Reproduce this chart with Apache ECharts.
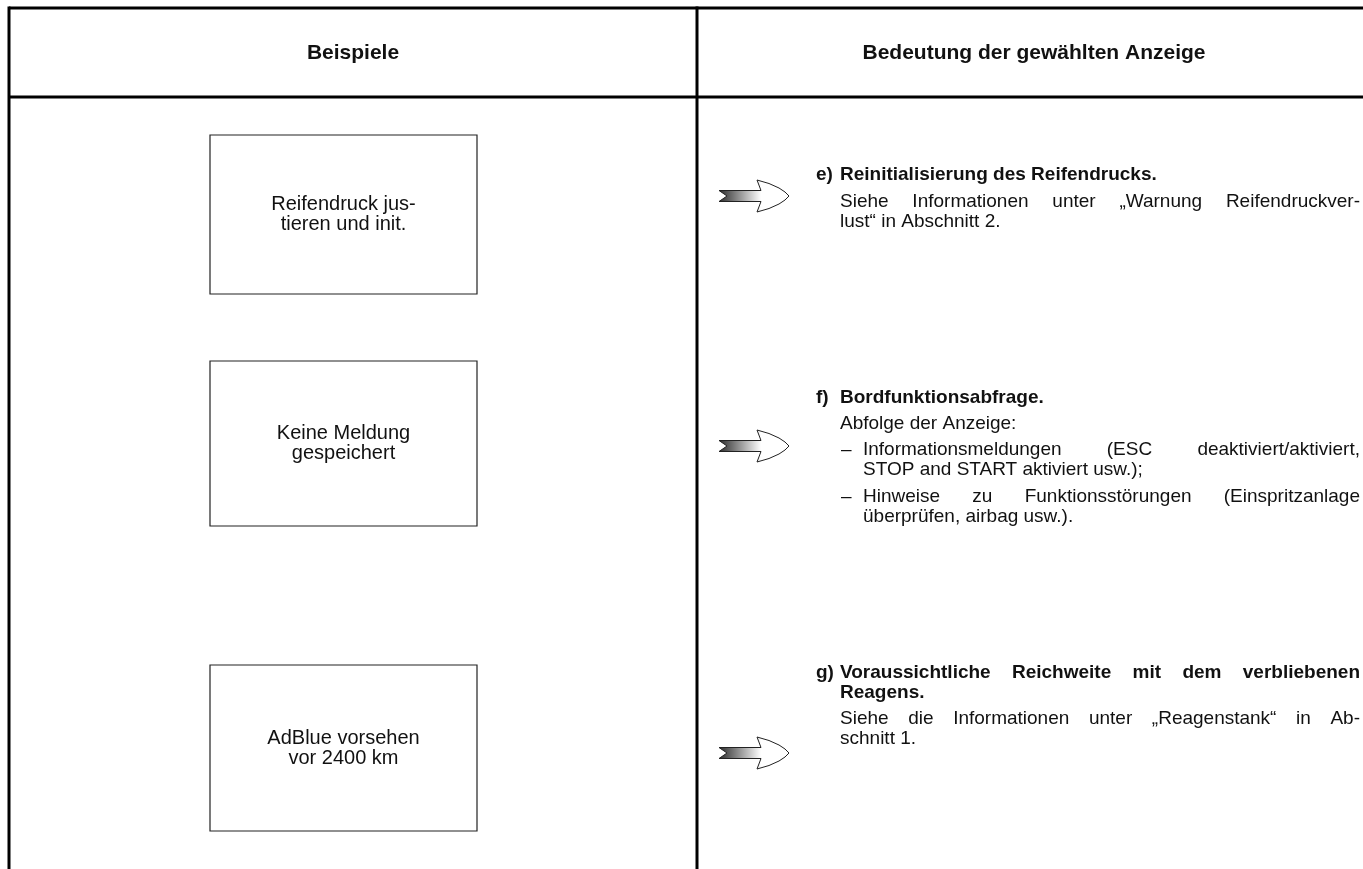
<!DOCTYPE html>
<html><head><meta charset="utf-8">
<script src="https://cdn.jsdelivr.net/npm/echarts@6/dist/echarts.min.js"></script>
<style>html,body{margin:0;padding:0;background:#fff}#c{width:1363px;height:869px}</style>
</head><body><div id="c"></div>
<script>
// ---- content (data) ----
const headers = ['Beispiele', 'Bedeutung der gewählten Anzeige'];
const displayMessages = [
  ['Reifendruck jus-', 'tieren und init.'],
  ['Keine Meldung', 'gespeichert'],
  ['AdBlue vorsehen', 'vor 2400 km']
];
const itemLabels = ['e)', 'f)', 'g)'];
const itemTitles = [
  ['Reinitialisierung des Reifendrucks.'],
  ['Bordfunktionsabfrage.'],
  ['Voraussichtliche Reichweite mit dem verbliebenen', 'Reagens.']
];
const itemBodyE = ['Siehe Informationen unter „Warnung Reifendruckver-', 'lust“ in Abschnitt 2.'];
const itemBodyF = ['Abfolge der Anzeige:'];
const itemBulletsF = [
  ['Informationsmeldungen (ESC deaktiviert/aktiviert,', 'STOP and START aktiviert usw.);'],
  ['Hinweise zu Funktionsstörungen (Einspritzanlage', 'überprüfen, airbag usw.).']
];
const itemBodyG = ['Siehe die Informationen unter „Reagenstank“ in Ab-', 'schnitt 1.'];

// ---- layout ----
const FONT = '"Liberation Sans", Arial, Helvetica, sans-serif';
const INK = '#111';
const cv = document.createElement('canvas').getContext('2d');
function tw(t, font) { cv.font = font; return cv.measureText(t).width; }

const els = [];
function line(x1, y1, x2, y2, w, c) {
  els.push({ type: 'line', shape: { x1, y1, x2, y2 }, style: { stroke: c || '#000', lineWidth: w } });
}
function text(t, x, y, o) {
  o = o || {};
  const size = o.size || 19;
  const font = (o.bold ? 'bold ' : '') + size + 'px ' + FONT;
  if (o.justify) {
    const words = t.split(' ');
    const ws = words.map(w => tw(w, font));
    const sum = ws.reduce((a, b) => a + b, 0);
    const gap = (o.right - x - sum) / (words.length - 1);
    let cx = x;
    words.forEach((w, i) => {
      els.push({ type: 'text', x: cx, y: y,
        style: { text: w, x: 0, y: 0, font, fill: INK, align: 'left', verticalAlign: 'middle' } });
      cx += ws[i] + gap;
    });
  } else {
    els.push({ type: 'text', x: x, y: y,
      style: { text: t, x: 0, y: 0, font, fill: INK, align: o.align || 'left', verticalAlign: 'middle' } });
  }
}
function arrow(x, y) {
  const pts = [[0,-5.5],[42,-5.5],[38,-16],[50,-12.5],[60,-8],[66,-4],[70,0],[66,4],[60,8],[50,12.5],[38,16],[42,5.5],[0,5.5],[8,0]];
  els.push({ type: 'polygon', x: x, y: y, shape: { points: pts },
    style: { fill: new echarts.graphic.LinearGradient(0, 0, 1, 0, [
      { offset: 0, color: '#2a2a2a' }, { offset: 0.6, color: '#fff' }, { offset: 1, color: '#fff' }]),
      stroke: '#222', lineWidth: 1 } });
}

// table frame
const L = 9, M = 697, R = 1371, T = 8, H = 97;
line(L, T, R, T, 3);
line(L, H, R, H, 3);
line(L, T - 1.5, L, 869, 3);
line(M, T - 1.5, M, 869, 3);

// headers
text(headers[0], (L + M) / 2, 53, { bold: true, size: 21, align: 'center' });
text(headers[1], (M + R) / 2, 53, { bold: true, size: 21, align: 'center' });

// display boxes
const boxes = [[210, 135, 267, 159], [210, 361, 267, 165], [210, 665, 267, 166]];
boxes.forEach((b, i) => {
  els.push({ type: 'rect', shape: { x: b[0], y: b[1], width: b[2], height: b[3] },
    style: { fill: 'none', stroke: '#222', lineWidth: 1.2 } });
  const cy = b[1] + b[3] / 2;
  const ls = displayMessages[i];
  ls.forEach((t, j) => text(t, b[0] + b[2] / 2, cy + (j - (ls.length - 1) / 2) * 20, { size: 20, align: 'center' }));
});

// arrows
[196, 446, 753].forEach(y => arrow(719, y));

// right column
const LX = 816, TX = 840, RX = 1360, BX = 863, DX = 841;
// e
text(itemLabels[0], LX, 175, { bold: true });
text(itemTitles[0][0], TX, 175, { bold: true });
text(itemBodyE[0], TX, 202, { justify: true, right: RX });
text(itemBodyE[1], TX, 222);
// f
text(itemLabels[1], LX, 398, { bold: true });
text(itemTitles[1][0], TX, 398, { bold: true });
text(itemBodyF[0], TX, 424);
[[450, 470], [497, 517]].forEach((ys, i) => {
  text('–', DX, ys[0]);
  text(itemBulletsF[i][0], BX, ys[0], { justify: true, right: RX });
  text(itemBulletsF[i][1], BX, ys[1]);
});
// g
text(itemLabels[2], LX, 673, { bold: true });
text(itemTitles[2][0], TX, 673, { bold: true, justify: true, right: RX });
text(itemTitles[2][1], TX, 693, { bold: true });
text(itemBodyG[0], TX, 719, { justify: true, right: RX });
text(itemBodyG[1], TX, 739);

const chart = echarts.init(document.getElementById('c'), null, { renderer: 'canvas' });
chart.setOption({ backgroundColor: '#fff', animation: false, graphic: { elements: els } });
</script></body></html>
